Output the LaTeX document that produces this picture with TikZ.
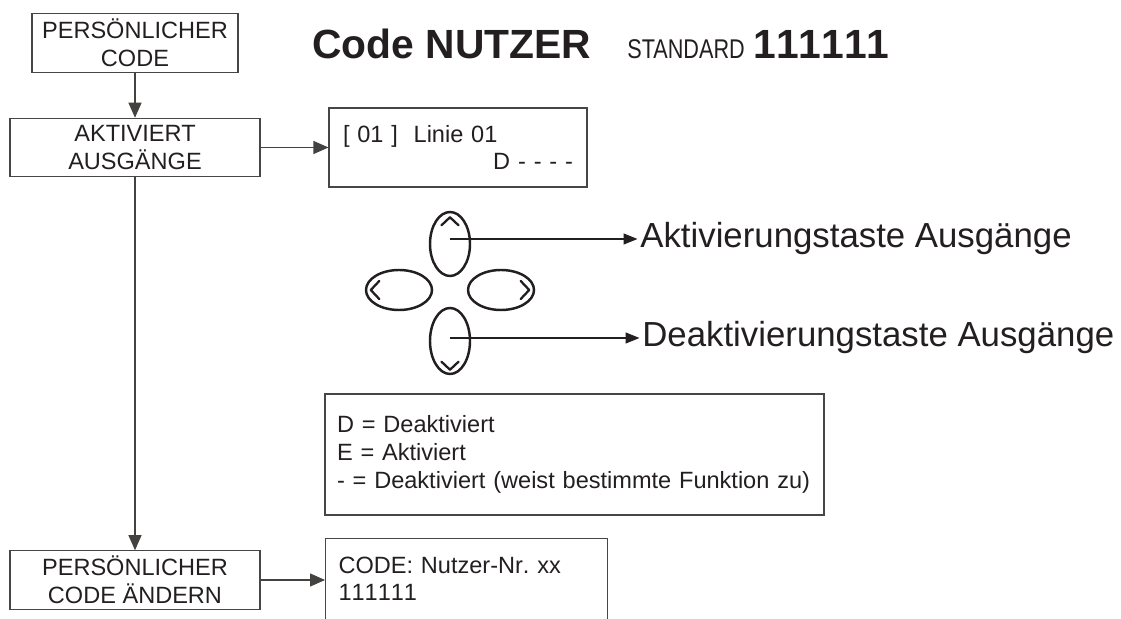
\documentclass[tikz,border=0pt]{standalone}
\usepackage{fontspec}
\setmainfont{Liberation Sans}
\newfontfamily\narrowfont[FakeStretch=0.8]{Liberation Sans}
\usepackage{tikz}
\definecolor{inkblack}{RGB}{35, 31, 32}
\definecolor{framegray}{RGB}{70, 70, 70}
\usetikzlibrary{shapes.geometric, arrows.meta, positioning, calc}
\frenchspacing

\begin{document}
\begin{tikzpicture}[
    flowbox/.style={rectangle, draw=framegray, line width=0.6pt, minimum width=5cm, minimum height=1.17cm, inner sep=0pt, align=center, text=inkblack, font=\fontsize{13.4}{15.8}\selectfont},
    infobox/.style={rectangle, draw=framegray, line width=0.6pt, align=left, text=inkblack, font=\fontsize{13.4}{15.8}\selectfont},
    key/.style={ellipse, draw=inkblack, line width=1.4pt, inner sep=0pt},
    chevron/.style={draw=inkblack, line width=1.3pt, line cap=round, line join=round},
    arrow/.style={-{Triangle[length=0.3cm, width=0.26cm]}, draw=inkblack!85, line width=0.6pt},
    keyarrow/.style={-{Triangle[length=0.28cm, width=0.22cm]}, draw=inkblack, line width=0.7pt},
    keylabel/.style={anchor=west, inner sep=0pt, text=inkblack, font=\fontsize{19.8}{22}\selectfont}
]
    \useasboundingbox (0, 0) rectangle (22.42, 12.38);

    % Title
    \node[anchor=base west, inner sep=0pt, text=inkblack, font=\fontsize{23.2}{26}\selectfont\bfseries] (title) at (6.24, 11.2) {Code NUTZER};
    \node[anchor=base west, inner sep=0pt, text=inkblack, font=\narrowfont\fontsize{15.4}{18}\selectfont] (stdlabel) at (12.54, 11.2) {STANDARD};
    \node[anchor=base west, inner sep=0pt, text=inkblack, font=\fontsize{23.2}{26}\selectfont\bfseries\addfontfeatures{Kerning=Off}] (stdcode) at (15.06, 11.2) {111111};

    % Menu steps
    \node[flowbox, minimum width=4.12cm] (pcode) at (2.70, 11.52) {PERSÖNLICHER\\CODE};
    \node[flowbox] (aktiv) at (2.70, 9.43) {AKTIVIERT\\AUSGÄNGE};
    \node[flowbox] (aendern) at (2.70, 0.78) {PERSÖNLICHER\\CODE ÄNDERN};

    % Displays
    \node[infobox, text width=4.6cm, inner xsep=0.28cm, minimum height=1.58cm] (display) at (9.16, 9.43) {[ 01 ]~~Linie 01\\\hfill D - - - -};
    \node[infobox, text width=9.5cm, inner xsep=0.24cm, minimum height=2.42cm] (legend) at (11.49, 3.29) {D = Deaktiviert\\E = Aktiviert\\- = Deaktiviert (weist bestimmte Funktion zu)};
    \node[infobox, anchor=north west, text width=5.12cm, inner xsep=0.26cm, minimum height=2.33cm, font=\fontsize{13.4}{15.8}\selectfont\addfontfeatures{Kerning=Off}] (codebox) at (6.5, 1.62) {CODE: Nutzer-Nr. xx\\111111\\\strut};

    % Keypad
    \node[key, minimum width=0.8cm, minimum height=1.28cm] (keyup) at (9.0, 7.5) {};
    \node[key, minimum width=0.8cm, minimum height=1.32cm] (keydown) at (9.0, 5.56) {};
    \node[key, minimum width=1.32cm, minimum height=0.8cm] (keyleft) at (7.98, 6.58) {};
    \node[key, minimum width=1.32cm, minimum height=0.8cm] (keyright) at (10.02, 6.58) {};
    \draw[chevron] ($(keyup.north)+(-0.17,-0.29)$) -- ($(keyup.north)+(0,-0.13)$) -- ($(keyup.north)+(0.17,-0.29)$);
    \draw[chevron] ($(keydown.south)+(-0.17,0.27)$) -- ($(keydown.south)+(0,0.11)$) -- ($(keydown.south)+(0.17,0.27)$);
    \draw[chevron] ($(keyleft.west)+(0.29,0.18)$) -- ($(keyleft.west)+(0.12,0)$) -- ($(keyleft.west)+(0.29,-0.18)$);
    \draw[chevron] ($(keyright.east)+(-0.29,0.18)$) -- ($(keyright.east)+(-0.12,0)$) -- ($(keyright.east)+(-0.29,-0.18)$);

    \node[keylabel] (lblon) at (12.8, 7.6) {Aktivierungstaste Ausgänge};
    \node[keylabel] (lbloff) at (12.84, 5.62) {Deaktivierungstaste Ausgänge};

    % Arrows
    \draw[arrow] (pcode) -- (aktiv);
    \draw[arrow] (aktiv) -- (display);
    \draw[arrow] (aktiv) -- (aendern);
    \draw[arrow] (aendern.east) -- (aendern.east -| codebox.west);
    \draw[keyarrow] (keyup.center |- lblon.west) -- ([xshift=-0.05cm]lblon.west);
    \draw[keyarrow] (keydown.center |- lbloff.west) -- ([xshift=-0.05cm]lbloff.west);
\end{tikzpicture}
\end{document}
